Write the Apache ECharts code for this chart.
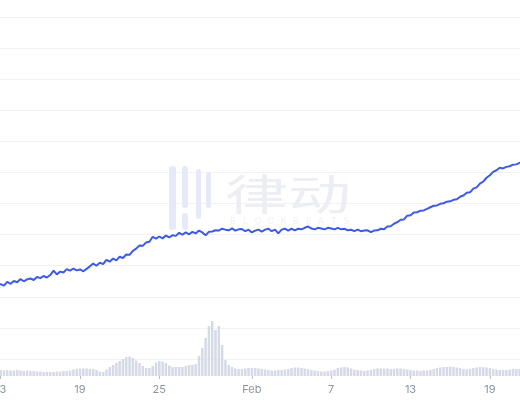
<!DOCTYPE html>
<html><head><meta charset="utf-8">
<script src="https://cdn.jsdelivr.net/npm/echarts@6/dist/echarts.min.js"></script>
<style>html,body{margin:0;padding:0;background:#fff}#c{width:520px;height:400px}</style>
</head><body><div id="c"></div>
<script>
// sampling: every 6 hours, starting Jan 12 18:00 (day-of-year 12.75)
const startDay = 12.75;
const stepDays = 0.25;

const price = [
23.5,24.1,23.6,24.8,24.2,25.1,24.7,25.7,25.0,25.6,25.9,25.4,26.4,26.0,26.7,26.2,
27.0,28.4,27.2,28.1,27.8,28.9,28.4,29.1,28.5,28.8,28.2,29.0,29.8,30.7,30.0,31.0,
30.5,31.9,31.3,32.3,31.7,32.9,32.5,33.6,33.5,34.8,35.5,36.5,36.4,37.5,37.7,39.3,
38.7,39.4,38.8,39.7,39.1,39.8,39.6,40.6,40.0,40.7,40.1,40.9,40.4,41.3,40.7,39.8,
40.9,41.0,41.4,41.3,41.9,41.6,41.4,42.0,41.3,41.7,41.8,41.1,41.6,40.7,41.3,41.6,
41.0,41.6,41.9,41.1,41.6,40.4,41.6,41.9,41.3,41.9,41.4,41.9,41.7,42.2,42.6,42.0,
41.7,42.2,42.0,41.7,42.2,42.0,41.7,42.2,41.7,41.9,41.4,41.6,41.1,41.6,41.1,41.3,
41.4,40.8,41.3,41.4,41.9,41.7,42.6,42.7,43.5,44.0,44.8,44.9,46.1,46.2,47.1,47.2,
47.7,47.8,48.3,48.8,49.3,49.4,49.9,50.1,50.6,50.7,51.2,51.4,52.2,52.6,53.5,53.6,
54.8,55.2,56.4,57.1,58.3,59.1,60.2,60.7,61.5,61.3,61.8,62.0,62.5,62.6,63.1,63.4
];

const volume = [
6,6,5.5,6,5.5,5.5,6,5.5,5,5.5,5,5,4.5,4.5,4,4,
4,4,4.5,4.5,5,5,5.5,6.5,7,7.5,7.5,7.5,7,7,6,4.5,
4,6.5,9,11,13,15,17,19,19.5,18,15.5,13,10,8,8,10,
13.5,15,14.5,13,10.5,9,9,9,9,10,11,11,12,20,28,38,
50,55,46,50,31,16,11,9,7.5,7,7,7.5,8,8,8,7.5,
7,6.5,6,5.5,5.5,6,6,6.5,7,8,8.5,8.5,8,7.5,7,6,
5.5,5,4.5,4.5,5,5.5,6.5,8,8.5,9,8.5,7.5,6.5,6,5.5,5,
5.5,6,7,7.5,7.5,7.5,7.5,7,7,7.5,7.5,7,6.5,6,5.5,5.5,
5,5.5,5.5,6,7,8,8.5,9,9,9.5,9,8.5,8,7,6.5,7,
8,8.5,9,9,8.5,8,7,6.5,6,6,6,6.5,7,7,7,7
];

// tick positions (day-of-year) and their labels
const tickDays = [13, 19, 25, 32, 38, 44, 50];
const tickLabels = ['13', '19', '25', 'Feb', '7', '13', '19'];

const priceData = price.map((v, i) => [startDay + i * stepDays, v]);
const volumeData = volume.map((v, i) => [startDay + i * stepDays, v]);

const xMin = 12.95, xMax = 52.28;

const chart = echarts.init(document.getElementById('c'), null, {renderer: 'canvas'});

// watermark
const wmLetters = 'BLOCKBEATS'.split('');
const wm = [
  {type: 'rect', shape: {x: 169, y: 166, width: 7, height: 64, r: 3}, style: {fill: '#e6eaf8'}},
  {type: 'rect', shape: {x: 182, y: 166, width: 6, height: 42, r: 3}, style: {fill: '#e6eaf8'}},
  {type: 'rect', shape: {x: 182, y: 213, width: 6, height: 17, r: 3}, style: {fill: '#e6eaf8'}},
  {type: 'rect', shape: {x: 196, y: 169, width: 5, height: 50, r: 2.5}, style: {fill: '#e6eaf8'}},
  {type: 'rect', shape: {x: 206, y: 172, width: 5, height: 36, r: 2.5}, style: {fill: '#e6eaf8'}},
  {type: 'text', x: 225, y: 194, scaleX: 1.5, style: {text: '律动', font: '42px "Noto Sans CJK SC"', fill: '#eceef3', verticalAlign: 'middle', align: 'left'}}
];
wmLetters.forEach((ch, i) => {
  wm.push({type: 'text', x: 233 + i * 12.6, y: 221, style: {text: ch, font: '9px Inter', fill: '#eef0f4', align: 'center', verticalAlign: 'middle'}});
});

chart.setOption({
  animation: false,
  backgroundColor: '#ffffff',
  graphic: {elements: wm.map(e => Object.assign({z: 1, silent: true}, e))},
  grid: [
    {left: 0, right: 0, top: 17, bottom: 41, containLabel: false, outerBoundsMode: 'none'},
    {left: 0, right: 0, top: 300, bottom: 24, containLabel: false, outerBoundsMode: 'none'}
  ],
  xAxis: [
    {type: 'value', gridIndex: 0, min: xMin, max: xMax, show: false, splitLine: {show: false}},
    {type: 'value', gridIndex: 1, min: xMin, max: xMax,
      axisLine: {show: false},
      splitLine: {show: false},
      axisTick: {show: true, length: 3, customValues: tickDays, lineStyle: {color: '#b9bfcc', width: 1}},
      axisLabel: {
        customValues: tickDays, margin: 8, fontSize: 11, fontFamily: 'Inter', color: '#8b92a4',
        formatter: v => tickLabels[tickDays.indexOf(Math.round(v))]
      }
    }
  ],
  yAxis: [
    {type: 'value', gridIndex: 0, min: 0, max: 110, interval: 10,
      axisLine: {show: false}, axisTick: {show: false}, axisLabel: {show: false},
      splitLine: {show: true, lineStyle: {color: '#f0f2f5', width: 1}}},
    {type: 'value', gridIndex: 1, min: 0, max: 76, show: false, splitLine: {show: false}}
  ],
  series: [
    {type: 'bar', xAxisIndex: 1, yAxisIndex: 1, data: volumeData, barWidth: 2.5,
      itemStyle: {color: '#d5dae6'}, z: 2},
    {type: 'line', xAxisIndex: 0, yAxisIndex: 0, data: priceData, showSymbol: false,
      lineStyle: {color: '#3d5ae8', width: 2}, z: 3}
  ]
});
</script>
</body></html>
